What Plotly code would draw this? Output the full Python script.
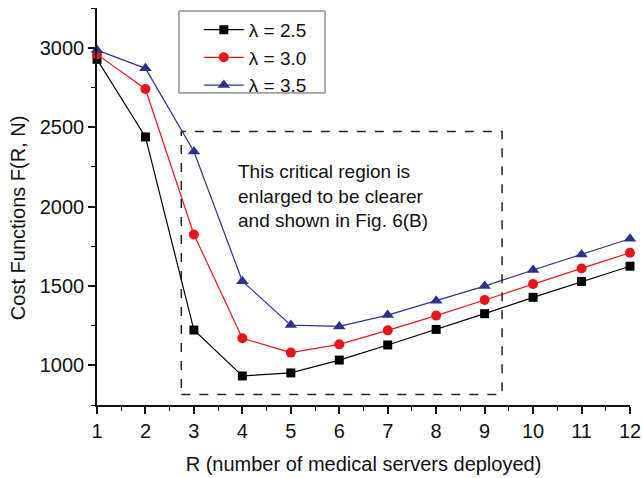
import plotly.graph_objects as go

R = [1, 2, 3, 4, 5, 6, 7, 8, 9, 10, 11, 12]
cost_25 = [2927, 2438, 1222, 933, 952, 1033, 1128, 1226, 1325, 1428, 1528, 1624]
cost_30 = [2958, 2740, 1824, 1170, 1080, 1132, 1220, 1313, 1411, 1512, 1610, 1709]
cost_35 = [2985, 2870, 2346, 1530, 1253, 1245, 1316, 1407, 1499, 1600, 1698, 1797]
names = ["λ = 2.5", "λ = 3.0", "λ = 3.5"]
x_ticks = list(range(1, 13))
y_ticks = [1000, 1500, 2000, 2500, 3000]

FONT = "Liberation Sans"
FS = 20
fig = go.Figure()
styles = [
    (cost_25, "#000000", "square", 9),
    (cost_30, "#E8141C", "circle", 10),
    (cost_35, "#2E3192", "triangle-up", 11),
]
for (vals, col, sym, sz), nm in zip(styles, names):
    fig.add_trace(go.Scatter(
        x=R, y=vals, name=nm, mode="lines+markers",
        line=dict(color=col, width=1.2),
        marker=dict(symbol=sym, size=sz, color=col),
        cliponaxis=False,
    ))

# dashed region box
fig.add_shape(type="rect", x0=2.74, x1=9.36, y0=816, y1=2472,
              line=dict(color="#222222", width=1.5, dash="dash"), layer="above")
fig.add_annotation(x=3.866, y=2067, xanchor="left", yanchor="middle",
                   text="This critical region is<br>enlarged to be clearer<br>and shown in Fig. 6(B)",
                   showarrow=False, align="left",
                   font=dict(family=FONT, size=19, color="#111111"))

# legend frame
fig.add_shape(type="rect", xref="paper", yref="paper",
              x0=0.1538, x1=0.4278, y0=0.786, y1=0.9924,
              line=dict(color="#555555", width=1), fillcolor="rgba(0,0,0,0)", layer="below")

# y-axis title
fig.add_annotation(xref="paper", yref="paper", x=-0.148, y=0.471,
                   xanchor="center", yanchor="middle", textangle=-90,
                   text="Cost Functions F(R, N)", showarrow=False,
                   font=dict(family=FONT, size=20, color="#111111"))

fig.update_layout(
    width=642, height=478,
    margin=dict(l=97, r=12, t=8, b=73),
    plot_bgcolor="white", paper_bgcolor="white",
    font=dict(family=FONT, size=FS, color="#111111"),
    showlegend=True,
    legend=dict(x=0.191, y=0.993, xanchor="left", yanchor="top",
                borderwidth=0, bgcolor="rgba(0,0,0,0)",
                font=dict(family=FONT, size=19), tracegroupgap=0,
                itemwidth=40),
    xaxis=dict(range=[1, 12], tickvals=x_ticks, showgrid=False, zeroline=False,
               automargin=False,
               showline=True, linecolor="#111111", linewidth=1.5,
               ticks="outside", ticklen=7, tickwidth=1.5, tickcolor="#111111",
               tickfont=dict(family=FONT, size=FS),
               minor=dict(ticks="outside", ticklen=4, dtick=0.5, tick0=1, tickcolor="#111111", tickwidth=1.2),
               title=dict(text="R (number of medical servers deployed)", standoff=16,
                          font=dict(family=FONT, size=FS))),
    yaxis=dict(range=[750, 3250], tickvals=y_ticks, showgrid=False, zeroline=False,
               automargin=False,
               showline=True, linecolor="#111111", linewidth=1.5,
               ticks="outside", ticklen=7, tickwidth=1.5, tickcolor="#111111",
               tickfont=dict(family=FONT, size=FS),
               minor=dict(ticks="outside", ticklen=4, dtick=250, tick0=750, tickcolor="#111111", tickwidth=1.2)),
)
fig.write_html("out.html")
